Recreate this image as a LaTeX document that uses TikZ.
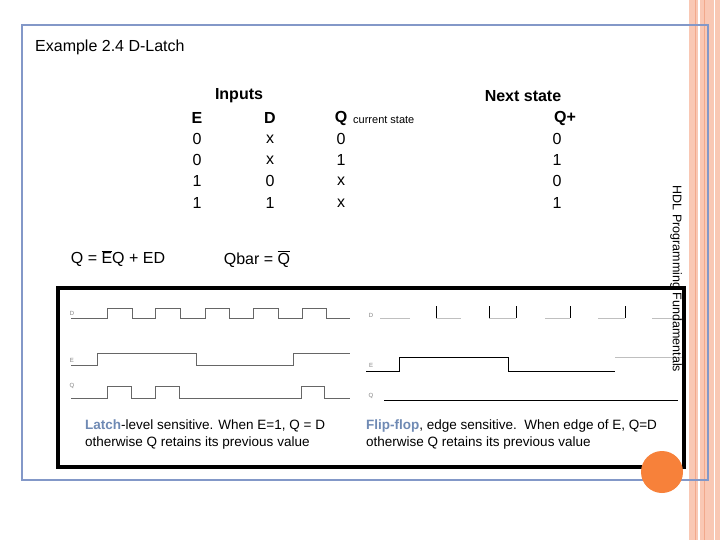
\documentclass[tikz,border=0pt]{standalone}
\usepackage{fontspec}
\setmainfont{Liberation Sans}
\usetikzlibrary{positioning}
\definecolor{frameblue}{HTML}{8398C8}
\definecolor{stripe}{HTML}{F9C8B4}
\definecolor{stripedark}{HTML}{F2A98C}
\definecolor{dotorange}{HTML}{F7813A}
\definecolor{hilite}{HTML}{6F8AB4}
\tikzset{
  txt/.style={inner sep=0pt, font=\fontsize{16}{19}\selectfont},
  hdr/.style={txt, font=\fontsize{16}{19}\selectfont\bfseries},
  small/.style={inner sep=0pt, font=\fontsize{11}{13}\selectfont},
  tiny/.style={inner sep=0pt, font=\fontsize{6}{7}\selectfont, text=gray},
  wave/.style={draw=gray!80!black, line width=0.8pt},
  faint/.style={draw=gray!50, line width=0.6pt}
}
\begin{document}
\begin{tikzpicture}[x=1pt, y=-1pt]
    \useasboundingbox (0,0) rectangle (720,540);
    \fill[white] (0,0) rectangle (720,540);
    % stripes at the right edge
    \fill[stripe] (689,0) rectangle (720,540);
    \draw[stripedark, line width=1pt] (695,0) -- (695,540);
    \draw[white, line width=1.5pt] (699,0) -- (699,540);
    \draw[stripedark, line width=1pt] (704,0) -- (704,540);
    \draw[white, line width=1pt] (714,0) -- (714,540);
    \draw[frameblue, line width=2.5pt] (22,25) rectangle (708,480);
    \node[txt, anchor=west] (title) at (35,47) {Example 2.4 D-Latch};
    % truth table
    \node[hdr] (inputs) at (239,96) {Inputs};
    \node[hdr] (next) at (523,96) {Next state};
    \node[hdr] (hE) at (197,118) {E};
    \node[hdr] (hD) at (270,118) {D};
    \node[hdr] (hQ) at (341,118) {Q};
    \node[small, anchor=west] (cur) at (353,120) {current state};
    \node[hdr] (hQp) at (565,118) {Q+};
    \foreach \y/\e/\d/\q/\n in {139/0/x/0/0, 160/0/x/1/1, 181/1/0/x/0, 203/1/1/x/1} {
      \node[txt] at (197,\y) {\e};
      \node[txt] at (270,\y) {\d};
      \node[txt] at (341,\y) {\q};
      \node[txt] at (557,\y) {\n};
    }
    \node[txt] (eq1) at (118,259) {Q = $\overline{\mbox{E}}$Q + ED};
    \node[txt] (eq2) at (257,259) {Qbar = $\overline{\mbox{Q}}$};
    % waveform panel
    \draw[black, line width=4pt] (58,288) rectangle (684,467);
    \node[tiny] (lD) at (72,313) {D};
    \node[tiny] (lE) at (72,360) {E};
    \node[tiny] (lQ) at (72,386) {Q};
    \draw[wave] (71,318) -- (107,318) -- (107,308) -- (132,308) -- (132,318) -- (155,318) -- (155,308) -- (180,308) -- (180,318)
      -- (205,318) -- (205,308) -- (229,308) -- (229,318) -- (253,318) -- (253,308) -- (278,308) -- (278,318)
      -- (302,318) -- (302,308) -- (326,308) -- (326,318) -- (350,318);
    \draw[wave] (71,365) -- (97,365) -- (97,353) -- (196,353) -- (196,365) -- (293,365) -- (293,353) -- (350,353);
    \draw[wave] (71,398) -- (107,398) -- (107,386) -- (131,386) -- (131,398) -- (155,398) -- (155,386) -- (179,386) -- (179,398)
      -- (301,398) -- (301,386) -- (324,386) -- (324,398) -- (350,398);
    \node[tiny] (rD) at (371,315) {D};
    \node[tiny] (rE) at (371,365) {E};
    \node[tiny] (rQ) at (371,396) {Q};
    \draw[faint] (380,318) -- (410,318);
    \foreach \a/\b in {436/461, 489/516, 545/570, 598/625} {
      \draw[faint] (\a,318) -- (\b,318);
    }
    \foreach \v in {436, 489, 516, 570, 625} {
      \draw[black, line width=0.6pt] (\v,306) -- (\v,318);
    }
    \draw[faint] (652,318) -- (682,318);
    \draw[black, line width=0.8pt] (366,371) -- (399,371) -- (399,357) -- (508,357) -- (508,371) -- (615,371);
    \draw[faint] (615,357) -- (682,357);
    \draw[black, line width=0.8pt] (384,400) -- (678,400);
    \node[txt, anchor=west, align=left, font=\fontsize{13.5}{17}\selectfont] (capL) at (85,435)
      {\textcolor{hilite}{\bfseries Latch}-level sensitive. When E=1, Q = D\\otherwise Q retains its previous value};
    \node[txt, anchor=west, align=left, font=\fontsize{13.5}{17}\selectfont] (capR) at (366,435)
      {\textcolor{hilite}{\bfseries Flip-flop}, edge sensitive.\ \ When edge of E, Q=D\\otherwise Q retains its previous value};
    \node[txt, rotate=-90, font=\fontsize{12.5}{14}\selectfont] (side) at (676,279) {HDL Programming Fundamentals};
    \fill[dotorange] (662,472) circle (21);
\end{tikzpicture}
\end{document}
